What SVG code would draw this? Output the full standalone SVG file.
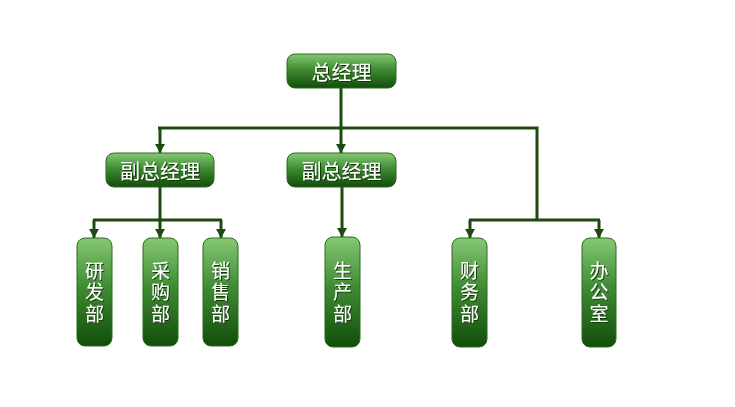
<svg xmlns="http://www.w3.org/2000/svg" width="735" height="407" viewBox="0 0 735 407">
<defs>
<linearGradient id="g" x1="0" y1="0" x2="0" y2="1">
<stop offset="0" stop-color="#86c874"/>
<stop offset="0.45" stop-color="#3f8c33"/>
<stop offset="1" stop-color="#124d0b"/>
</linearGradient>
<filter id="ts" x="-20%" y="-20%" width="140%" height="140%">
<feDropShadow dx="1" dy="1" stdDeviation="0.6" flood-color="#0b3306" flood-opacity="0.9"/>
</filter>
<marker id="ah" markerWidth="9" markerHeight="10" refX="9" refY="5" orient="auto" markerUnits="userSpaceOnUse" viewBox="0 0 9 10">
<path d="M0,0 L9,5 L0,10 Z" fill="#1c4a10"/>
</marker>
<style>
.box{fill:url(#g);stroke:#2a6a1e;stroke-width:1}
.t{font-family:"Noto Sans CJK SC","Noto Sans",sans-serif;font-size:20px;fill:#ffffff;text-anchor:middle;dominant-baseline:central;filter:url(#ts)}
.v{font-family:"Liberation Sans","Noto Sans CJK SC",sans-serif;font-size:19px}
.ln{fill:none;stroke:#1c4a10;stroke-width:3}
.la{fill:none;stroke:#1c4a10;stroke-width:3;marker-end:url(#ah)}
</style>
</defs>
<rect width="735" height="407" fill="#ffffff"/>
<g id="connectors">
<path class="ln" d="M341,88 V128"/>
<path class="ln" d="M158,128 H537 V220"/>
<path class="la" d="M160,128 V153"/>
<path class="la" d="M341,128 V153"/>
<path class="ln" d="M160,187 V220"/>
<path class="ln" d="M93,220 H222"/>
<path class="la" d="M94,220 V238"/>
<path class="la" d="M160,220 V238"/>
<path class="la" d="M221,220 V238"/>
<path class="la" d="M342,187 V237"/>
<path class="ln" d="M469,220 H600"/>
<path class="la" d="M470,220 V238"/>
<path class="la" d="M599,220 V238"/>
</g>
<g id="n-ceo"><rect class="box" x="287" y="54" width="109" height="34" rx="8"/><text class="t" x="341.5" y="71">总经理</text></g>
<g id="n-vp1"><rect class="box" x="106" y="153" width="108" height="34" rx="8"/><text class="t" x="160" y="170">副总经理</text></g>
<g id="n-vp2"><rect class="box" x="287" y="153" width="109" height="34" rx="8"/><text class="t" x="341.5" y="170">副总经理</text></g>
<g id="n-rd"><rect class="box" x="77" y="238" width="35" height="108" rx="8"/><text class="t v" x="94.5" y="271">研</text><text class="t v" x="94.5" y="292.5">发</text><text class="t v" x="94.5" y="314">部</text></g>
<g id="n-buy"><rect class="box" x="143" y="238" width="35" height="108" rx="8"/><text class="t v" x="160.5" y="271">采</text><text class="t v" x="160.5" y="292.5">购</text><text class="t v" x="160.5" y="314">部</text></g>
<g id="n-sale"><rect class="box" x="203" y="238" width="35" height="108" rx="8"/><text class="t v" x="220.5" y="271">销</text><text class="t v" x="220.5" y="292.5">售</text><text class="t v" x="220.5" y="314">部</text></g>
<g id="n-prod"><rect class="box" x="325" y="237" width="35" height="110" rx="8"/><text class="t v" x="342.5" y="271">生</text><text class="t v" x="342.5" y="292.5">产</text><text class="t v" x="342.5" y="314">部</text></g>
<g id="n-fin"><rect class="box" x="452" y="238" width="35" height="109" rx="8"/><text class="t v" x="469.5" y="271">财</text><text class="t v" x="469.5" y="292.5">务</text><text class="t v" x="469.5" y="314">部</text></g>
<g id="n-off"><rect class="box" x="582" y="238" width="34" height="109" rx="8"/><text class="t v" x="599" y="271">办</text><text class="t v" x="599" y="292.5">公</text><text class="t v" x="599" y="314">室</text></g>
</svg>
